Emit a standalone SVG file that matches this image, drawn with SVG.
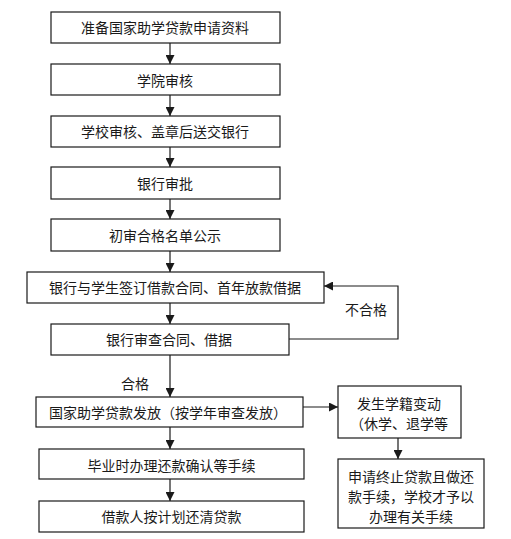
<svg xmlns="http://www.w3.org/2000/svg" width="511" height="539" viewBox="0 0 511 539">
<style>
.box{fill:#fff;stroke:#1a1a1a;stroke-width:1.2}
.t{font-family:"Noto Sans CJK SC","Noto Sans",sans-serif;font-size:14px;fill:#1a1a1a;text-anchor:middle}
.c{fill:none;stroke:#1a1a1a;stroke-width:1.2}
</style>
<defs>
<marker id="ah" markerUnits="userSpaceOnUse" markerWidth="10" markerHeight="9" refX="9" refY="4.5" orient="auto">
<path d="M0,0 L9,4.5 L0,9 z" fill="#1a1a1a"/>
</marker>
</defs>
<rect width="511" height="539" fill="#fff"/>
<g id="connectors">
<line class="c" x1="170" y1="43" x2="170" y2="64" marker-end="url(#ah)"/>
<line class="c" x1="170" y1="95" x2="170" y2="116" marker-end="url(#ah)"/>
<line class="c" x1="170" y1="147" x2="170" y2="167" marker-end="url(#ah)"/>
<line class="c" x1="170" y1="199" x2="170" y2="219" marker-end="url(#ah)"/>
<line class="c" x1="170" y1="251" x2="170" y2="272" marker-end="url(#ah)"/>
<line class="c" x1="170" y1="303" x2="170" y2="324" marker-end="url(#ah)"/>
<polyline class="c" points="289,339 398,339 398,286 324,286" marker-end="url(#ah)"/>
<line class="c" x1="170" y1="355" x2="170" y2="397" marker-end="url(#ah)"/>
<line class="c" x1="170" y1="427" x2="170" y2="449" marker-end="url(#ah)"/>
<line class="c" x1="170" y1="479" x2="170" y2="501" marker-end="url(#ah)"/>
<line class="c" x1="303" y1="407" x2="338" y2="407" marker-end="url(#ah)"/>
<line class="c" x1="398" y1="438" x2="398" y2="459" marker-end="url(#ah)"/>
<text class="t" x="366" y="315">不合格</text>
<text class="t" x="135" y="389">合格</text>
</g>
<g id="n1"><rect class="box" x="51" y="12" width="229" height="31"/><text class="t" x="165" y="33">准备国家助学贷款申请资料</text></g>
<g id="n2"><rect class="box" x="51" y="64" width="229" height="31"/><text class="t" x="165" y="86">学院审核</text></g>
<g id="n3"><rect class="box" x="51" y="116" width="229" height="31"/><text class="t" x="165" y="137">学校审核、盖章后送交银行</text></g>
<g id="n4"><rect class="box" x="51" y="167" width="229" height="32"/><text class="t" x="165" y="189">银行审批</text></g>
<g id="n5"><rect class="box" x="51" y="219" width="229" height="32"/><text class="t" x="165" y="241">初审合格名单公示</text></g>
<g id="n6"><rect class="box" x="27" y="272" width="297" height="31"/><text class="t" x="175" y="293">银行与学生签订借款合同、首年放款借据</text></g>
<g id="n7"><rect class="box" x="51" y="324" width="238" height="31"/><text class="t" x="169" y="345">银行审查合同、借据</text></g>
<g id="n8"><rect class="box" x="36" y="397" width="267" height="30"/><text class="t" x="168" y="418">国家助学贷款发放（按学年审查发放）</text></g>
<g id="n9"><rect class="box" x="39" y="449" width="265" height="30"/><text class="t" x="171.5" y="471">毕业时办理还款确认等手续</text></g>
<g id="n10"><rect class="box" x="39" y="501" width="265" height="31"/><text class="t" x="171.5" y="522">借款人按计划还清贷款</text></g>
<g id="nA"><rect class="box" x="338" y="386" width="123" height="52"/><text class="t" x="399" y="409">发生学籍变动</text><text class="t" x="399" y="429">（休学、退学等</text></g>
<g id="nB"><rect class="box" x="338" y="459" width="146" height="69"/><text class="t" x="411" y="482">申请终止贷款且做还</text><text class="t" x="411" y="502">款手续，学校才予以</text><text class="t" x="411" y="522">办理有关手续</text></g>
</svg>
